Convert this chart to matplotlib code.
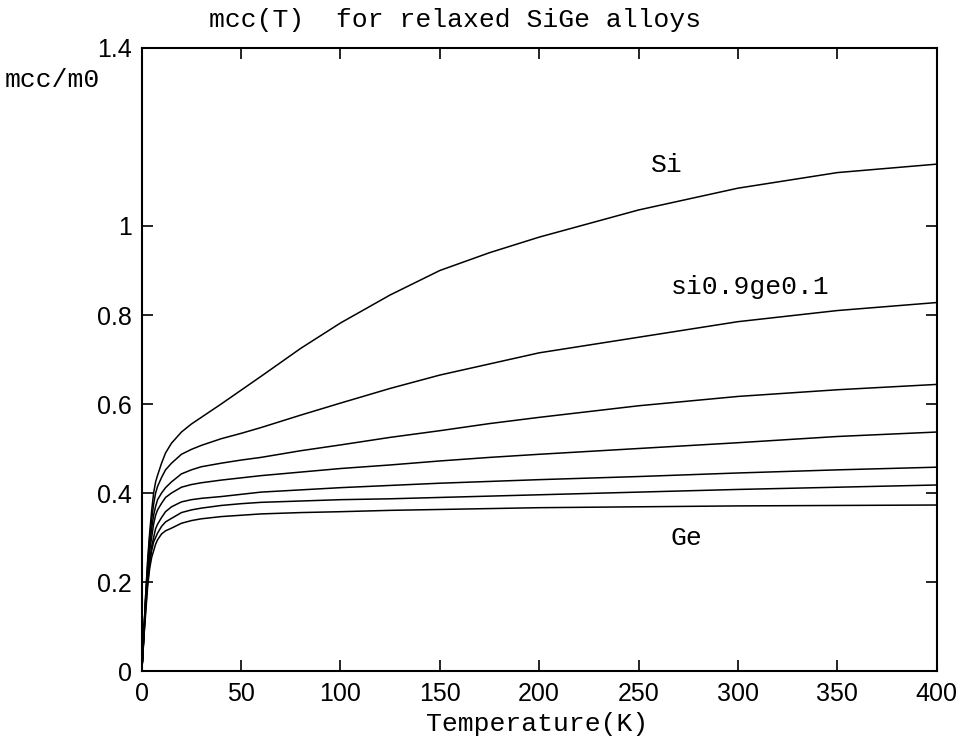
import matplotlib
matplotlib.use("Agg")
import matplotlib.pyplot as plt

T = [0, 0.5, 1, 2, 3, 4, 5, 6, 7, 8, 10, 12, 15, 20, 25, 30, 40, 50, 60,
     80, 100, 125, 150, 175, 200, 250, 300, 350, 400]

si = [0, 0.03, 0.08, 0.17, 0.25, 0.31, 0.36, 0.40, 0.425, 0.44, 0.467, 0.49,
      0.512, 0.537, 0.555, 0.57, 0.60, 0.631, 0.662, 0.725, 0.782, 0.845,
      0.90, 0.94, 0.975, 1.036, 1.085, 1.12, 1.139]
si09 = [0, 0.03, 0.08, 0.17, 0.24, 0.30, 0.34, 0.375, 0.40, 0.415, 0.435,
        0.452, 0.467, 0.487, 0.498, 0.507, 0.522, 0.534, 0.547, 0.575, 0.602,
        0.635, 0.665, 0.69, 0.715, 0.75, 0.785, 0.81, 0.828]
si08 = [0, 0.03, 0.08, 0.16, 0.23, 0.28, 0.32, 0.35, 0.37, 0.385, 0.40,
        0.412, 0.425, 0.443, 0.452, 0.459, 0.467, 0.474, 0.48, 0.495, 0.508,
        0.525, 0.54, 0.556, 0.57, 0.596, 0.617, 0.632, 0.644]
si07 = [0, 0.03, 0.08, 0.16, 0.22, 0.27, 0.30, 0.33, 0.35, 0.362, 0.377,
        0.39, 0.40, 0.413, 0.419, 0.423, 0.429, 0.434, 0.439, 0.447, 0.455,
        0.463, 0.472, 0.48, 0.487, 0.50, 0.513, 0.527, 0.537]
si06 = [0, 0.03, 0.07, 0.15, 0.21, 0.25, 0.28, 0.30, 0.32, 0.33, 0.345,
        0.358, 0.369, 0.38, 0.385, 0.388, 0.392, 0.397, 0.402, 0.407, 0.412,
        0.417, 0.422, 0.426, 0.43, 0.437, 0.445, 0.452, 0.458]
si05 = [0, 0.03, 0.07, 0.14, 0.20, 0.24, 0.27, 0.29, 0.30, 0.31, 0.325,
        0.335, 0.343, 0.356, 0.362, 0.366, 0.372, 0.376, 0.379, 0.382, 0.385,
        0.387, 0.39, 0.393, 0.396, 0.402, 0.408, 0.413, 0.418]
ge = [0, 0.03, 0.07, 0.13, 0.19, 0.23, 0.255, 0.27, 0.285, 0.295, 0.308,
      0.315, 0.321, 0.332, 0.338, 0.342, 0.347, 0.350, 0.353, 0.356, 0.358,
      0.361, 0.363, 0.365, 0.367, 0.369, 0.371, 0.372, 0.373]

series = [si, si09, si08, si07, si06, si05, ge]

x_ticks = [0, 50, 100, 150, 200, 250, 300, 350, 400]
y_ticks = [0, 0.2, 0.4, 0.6, 0.8, 1.0, 1.4]
y_tick_labels = ["0", "0.2", "0.4", "0.6", "0.8", "1", "1.4"]

labels = [("Si", 256, 1.138), ("si0.9ge0.1", 266, 0.862), ("Ge", 266, 0.30)]

mono = "Liberation Mono"
sans = "Liberation Sans"

fig = plt.figure(figsize=(9.6, 7.43), dpi=100)
ax = fig.add_axes([0.1476, 0.0969, 0.8281, 0.8385])

for s in series:
    ax.plot(T, s, color="black", linewidth=1.1)

ax.set_xlim(0, 400)
ax.set_ylim(0, 1.4)
ax.set_xticks(x_ticks)
ax.set_xticklabels([str(v) for v in x_ticks])
ax.set_yticks(y_ticks)
ax.set_yticklabels(y_tick_labels)
ax.tick_params(direction="in", length=8, width=1.2, top=True, right=True,
               labelsize=18, colors="black")
ax.tick_params(axis="x", pad=8)
ax.tick_params(axis="y", pad=7)
for lab in ax.get_xticklabels() + ax.get_yticklabels():
    lab.set_family(sans)
for sp in ax.spines.values():
    sp.set_linewidth(1.5)

for txt, tx, ty in labels:
    ax.text(tx, ty, txt, family=mono, fontsize=19, ha="left", va="center")

fig.text(455 / 960, 1 - 20 / 743, "mcc(T)  for relaxed SiGe alloys",
         family=mono, fontsize=19, ha="center", va="center")
fig.text(5 / 960, 1 - 80 / 743, "mcc/m0", family=mono, fontsize=19,
         ha="left", va="center")
fig.text(537 / 960, 1 - 724 / 743, "Temperature(K)", family=mono,
         fontsize=19, ha="center", va="center")

fig.savefig("out.png", dpi=100)
